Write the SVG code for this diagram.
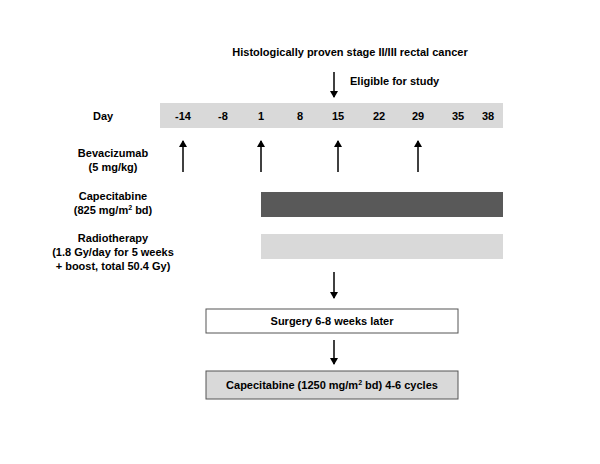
<svg xmlns="http://www.w3.org/2000/svg" width="600" height="464" viewBox="0 0 600 464">
<style>
text{font-family:"Liberation Sans",Arial,sans-serif;font-weight:bold;font-size:11px;fill:#000}
.c{text-anchor:middle}
.ln{stroke:#000;stroke-width:1.5;fill:none}
</style>
<defs><marker id="a" markerWidth="8" markerHeight="8" refX="6" refY="4" orient="auto" markerUnits="userSpaceOnUse"><path d="M0,0 L7,4 L0,8 Z" fill="#000"/></marker></defs>
<rect width="600" height="464" fill="#fff"/>
<g id="title"><text class="c" x="350" y="56">Histologically proven stage II/III rectal cancer</text>
<text x="350" y="85">Eligible for study</text></g>
<g id="day"><rect x="160" y="103" width="343" height="25" fill="#d9d9d9"/>
<text x="93" y="120">Day</text>
<text class="c" x="183" y="120">-14</text><text class="c" x="223" y="120">-8</text><text class="c" x="261" y="120">1</text><text class="c" x="300" y="120">8</text><text class="c" x="338" y="120">15</text><text class="c" x="379" y="120">22</text><text class="c" x="418" y="120">29</text><text class="c" x="458" y="120">35</text><text class="c" x="488" y="120">38</text></g>
<g id="bev"><text class="c" x="113" y="157">Bevacizumab</text><text class="c" x="113" y="171">(5 mg/kg)</text></g>
<g id="cape"><text class="c" x="113" y="200">Capecitabine</text><text class="c" x="113" y="214">(825 mg/m<tspan font-size="7" dy="-4">2</tspan><tspan dy="4"> bd)</tspan></text>
<rect x="261" y="192" width="242" height="25" fill="#595959"/></g>
<g id="rt"><text class="c" x="113" y="242">Radiotherapy</text><text class="c" x="113" y="256">(1.8 Gy/day for 5 weeks</text><text class="c" x="113" y="270">+ boost, total 50.4 Gy)</text>
<rect x="261" y="234" width="242" height="25" fill="#d9d9d9"/></g>
<g id="surgery"><rect x="206" y="309" width="252" height="24" fill="#fff" stroke="#555"/><text class="c" x="332" y="325">Surgery 6-8 weeks later</text></g>
<g id="final"><rect x="206" y="371" width="252" height="28" fill="#d9d9d9" stroke="#555"/><text class="c" x="332" y="389">Capecitabine (1250 mg/m<tspan font-size="7" dy="-4">2</tspan><tspan dy="4"> bd) 4-6 cycles</tspan></text></g>
<g id="connectors" marker-end="url(#a)">
<path class="ln" d="M334,72 V97"/>
<path class="ln" d="M183,172 V141"/><path class="ln" d="M261,172 V141"/><path class="ln" d="M338,172 V141"/><path class="ln" d="M418,172 V141"/>
<path class="ln" d="M334,272 V298"/><path class="ln" d="M334,340 V364"/>
</g>
</svg>
